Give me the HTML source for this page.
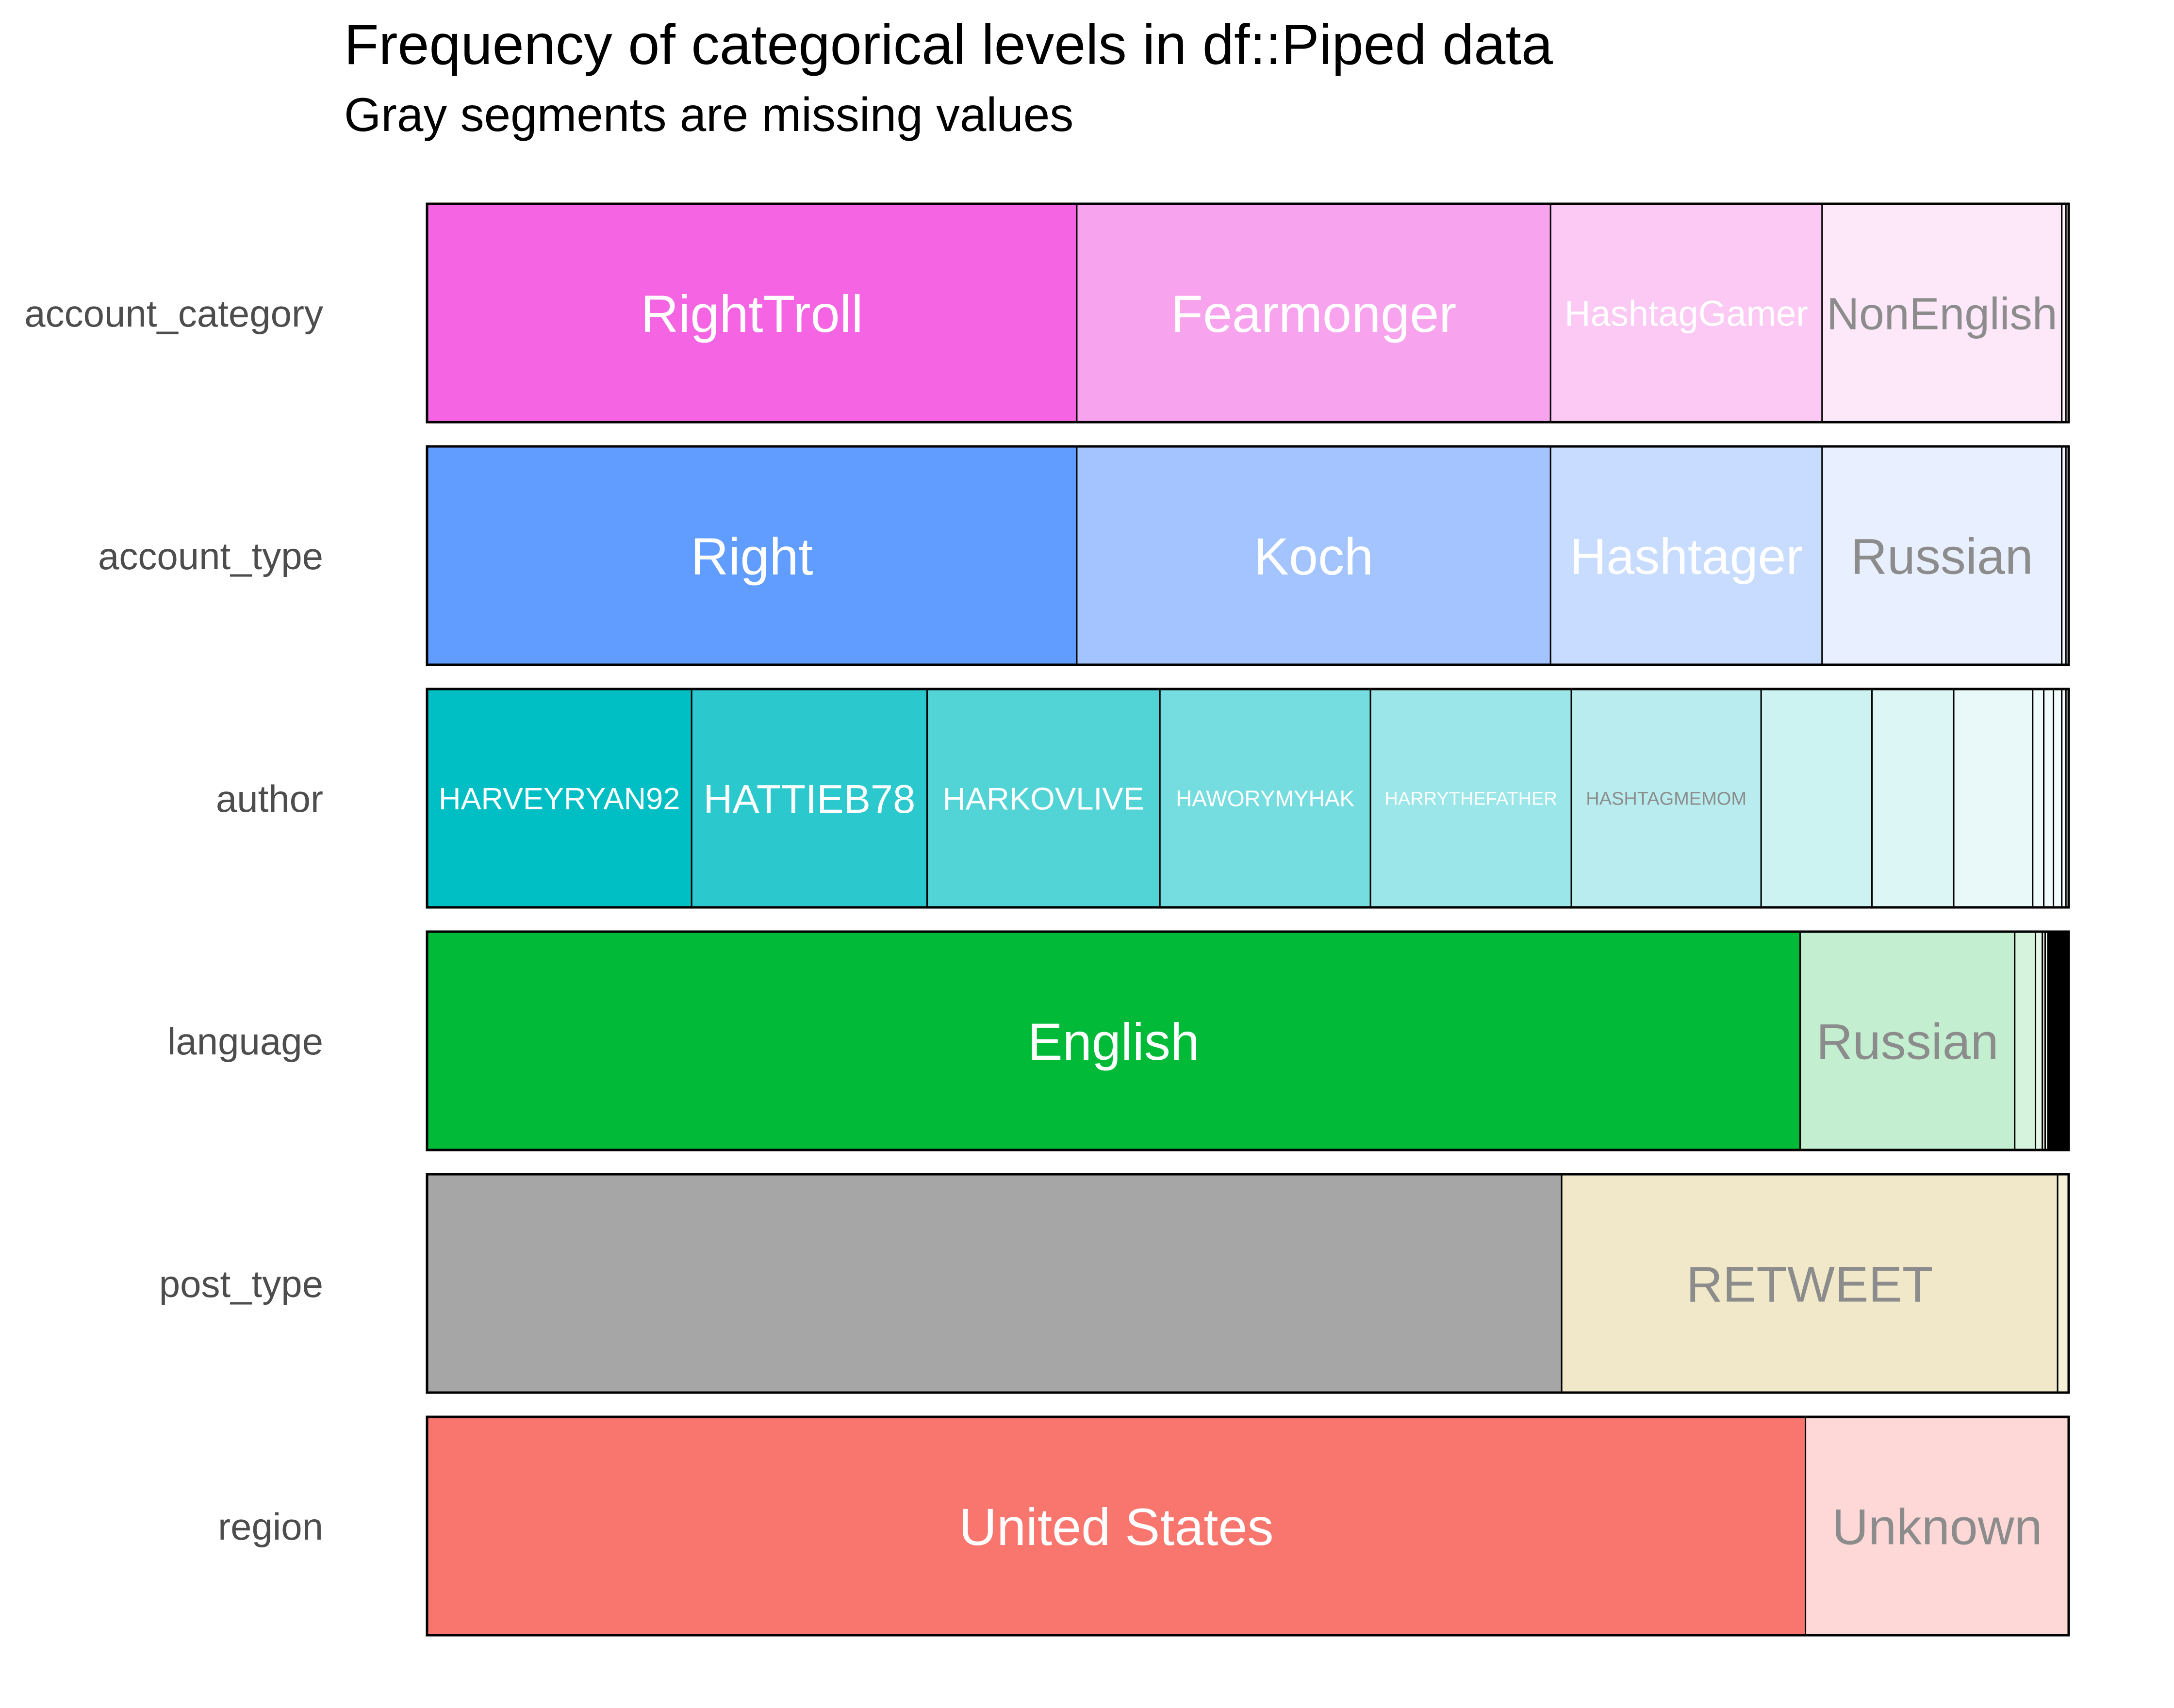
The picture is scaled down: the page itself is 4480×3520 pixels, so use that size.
<!DOCTYPE html>
<html><head><meta charset="utf-8"><style>
html,body{margin:0;padding:0;background:#fff}
svg{display:block}
text{font-family:"Liberation Sans",sans-serif}
</style></head><body>
<svg id="chart" width="4480" height="3520" viewBox="0 0 4480 3520" xmlns="http://www.w3.org/2000/svg">
<rect x="0" y="0" width="4480" height="3520" fill="#fff"/>
<text x="709" y="132" font-size="117" fill="#000">Frequency of categorical levels in df::Piped data</text>
<text x="709" y="270" font-size="98" fill="#000">Gray segments are missing values</text>
<g id="plot"></g>
</svg>
<script>
const variables = ["account_category","account_type","author","language","post_type","region"];
const accountCategoryCounts = [469,342,196,173,3,2];
const accountTypeCounts = [469,342,196,173,3,2];
const authorCounts = [191,170,168,152,145,137,80,59,57,8,7,6,3,2];
const languageCounts = [992,155,15,5,2,2,15];
const postTypeCounts = [819,358,8];
const regionCounts = [995,190];
const accountCategoryLabels = ["RightTroll","Fearmonger","HashtagGamer","NonEnglish","",""];
const accountTypeLabels = ["Right","Koch","Hashtager","Russian","",""];
const authorLabels = ["HARVEYRYAN92","HATTIEB78","HARKOVLIVE","HAWORYMYHAK","HARRYTHEFATHER","HASHTAGMEMOM","","","","","","","",""];
const languageLabels = ["English","Russian","","","","",""];
const postTypeLabels = ["","RETWEET",""];
const regionLabels = ["United States","Unknown"];

const rows = [
 {counts:accountCategoryCounts, labels:accountCategoryLabels,
  fills:["#F564E3","#F8A3EE","#FBC9F4","#FDE8FA","#FEF3FC","#FEF8FD"],
  sizes:[108,108,74,93], colors:["#fff","#fff","#fff","#8c8c8c"]},
 {counts:accountTypeCounts, labels:accountTypeLabels,
  fills:["#619CFF","#A3C4FF","#C8DCFF","#E8F0FF","#F1F6FF","#F6F9FF"],
  sizes:[108,108,104,104], colors:["#fff","#fff","#fff","#8c8c8c"]},
 {counts:authorCounts, labels:authorLabels,
  fills:["#00BFC4","#2BC9CD","#52D3D6","#75DCDF","#9BE6E8","#B8ECEE","#CCF2F2","#DCF6F6","#E9F9F9","#EEFBFB","#F1FBFB","#F3FCFC","#F5FCFC","#F7FDFD"],
  sizes:[63,83,65,46,38,38], colors:["#fff","#fff","#fff","#fff","#fff","#8c8c8c"]},
 {counts:languageCounts, labels:languageLabels,
  fills:["#00BA38","#C3EED0","#D6F3DE","#E3F7E8","#E8F8EC","#EDFAF0","#000000"],
  sizes:[108,104], colors:["#fff","#8c8c8c"]},
 {counts:postTypeCounts, labels:postTypeLabels,
  fills:["#A6A6A6","#F0E8C8","#F5F0D6"],
  sizes:[104,104], colors:["#fff","#8c8c8c"]},
 {counts:regionCounts, labels:regionLabels,
  fills:["#F8766D","#FDD8D6"],
  sizes:[108,104], colors:["#fff","#8c8c8c"]}
];

const NS = "http://www.w3.org/2000/svg";
const plot = document.getElementById('plot');
const X0 = 880, X1 = 4263;
const rowTop = i => 420 + i*500;
const rowH = 450;

rows.forEach((row, i) => {
  const total = row.counts.reduce((a,b)=>a+b,0);
  const xs = v => X0 + (X1 - X0) * v / total;
  const y = rowTop(i);
  const g = document.createElementNS(NS,'g');
  
  
  plot.appendChild(g);

  const lab = document.createElementNS(NS,'text');
  
  
  lab.setAttribute('x', 666);
  lab.setAttribute('y', y + rowH/2 + 28);
  lab.setAttribute('text-anchor','end');
  lab.setAttribute('font-size', 78);
  lab.setAttribute('fill','#4d4d4d');
  lab.textContent = variables[i];
  g.appendChild(lab);

  let cum = 0;
  row.counts.forEach((c, j) => {
    const xa = xs(cum), xb = xs(cum + c);
    cum += c;
    const r = document.createElementNS(NS,'rect');
    
    
    r.setAttribute('x', xa);
    r.setAttribute('y', y);
    r.setAttribute('width', xb - xa);
    r.setAttribute('height', rowH);
    r.setAttribute('fill', row.fills[j]);
    r.setAttribute('stroke', '#000');
    r.setAttribute('stroke-width', 3);
    g.appendChild(r);
    if (row.labels[j]) {
      const t = document.createElementNS(NS,'text');
      
      
      t.setAttribute('x', (xa + xb)/2);
      t.setAttribute('y', y + rowH/2 + row.sizes[j]*0.36);
      t.setAttribute('text-anchor','middle');
      t.setAttribute('font-size', row.sizes[j]);
      t.setAttribute('fill', row.colors[j]);
      t.textContent = row.labels[j];
      g.appendChild(t);
    }
  });
  const b = document.createElementNS(NS,'rect');
  
  
  b.setAttribute('x', X0);
  b.setAttribute('y', y);
  b.setAttribute('width', X1 - X0);
  b.setAttribute('height', rowH);
  b.setAttribute('fill', 'none');
  b.setAttribute('stroke', '#000');
  b.setAttribute('stroke-width', 5);
  g.appendChild(b);
});
</script>
</body></html>
